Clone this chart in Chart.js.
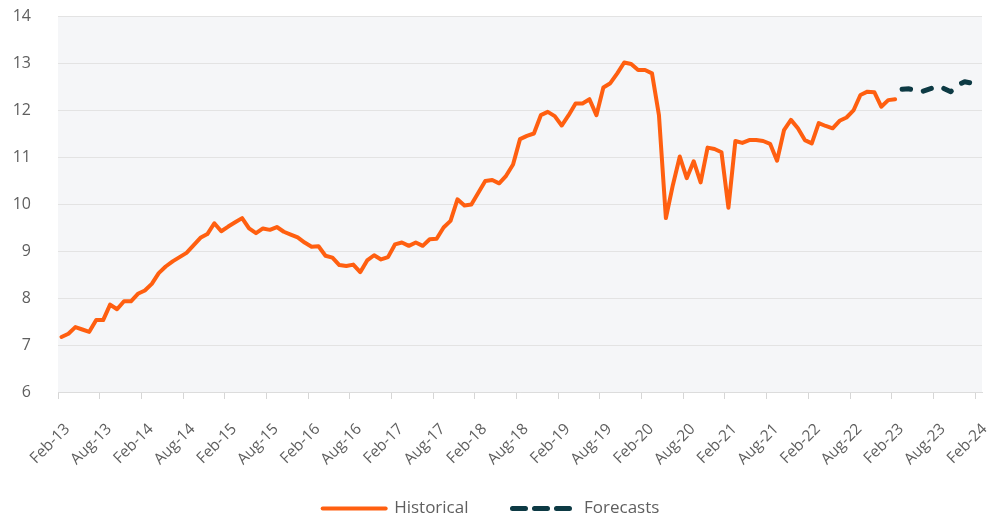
<!DOCTYPE html>
<html>
<head>
<meta charset="utf-8">
<script src="https://cdn.jsdelivr.net/npm/chart.js@4.4.0/dist/chart.umd.min.js"></script>
<style>
  html, body { margin: 0; padding: 0; background: #fff; }
</style>
</head>
<body>
<canvas id="chart" width="999" height="517"></canvas>
<script>
// Monthly series, Feb-13 .. Feb-23 (historical) and Mar-23 .. Feb-24 (forecast)
const tickLabels = ['Feb-13', 'Aug-13', 'Feb-14', 'Aug-14', 'Feb-15', 'Aug-15', 'Feb-16', 'Aug-16',
  'Feb-17', 'Aug-17', 'Feb-18', 'Aug-18', 'Feb-19', 'Aug-19', 'Feb-20', 'Aug-20', 'Feb-21',
  'Aug-21', 'Feb-22', 'Aug-22', 'Feb-23', 'Aug-23', 'Feb-24'];
const monthNames = ['Jan', 'Feb', 'Mar', 'Apr', 'May', 'Jun', 'Jul', 'Aug', 'Sep', 'Oct', 'Nov', 'Dec'];

const historical = [
  7.17, 7.24, 7.38, 7.33, 7.28, 7.53, 7.53, 7.86, 7.76, 7.93, 7.93, 8.09,
  8.16, 8.30, 8.53, 8.67, 8.78, 8.87, 8.96, 9.12, 9.28, 9.36, 9.59, 9.42,
  9.52, 9.61, 9.70, 9.48, 9.38, 9.48, 9.45, 9.51, 9.41, 9.35, 9.29, 9.18,
  9.09, 9.10, 8.90, 8.86, 8.70, 8.68, 8.71, 8.55, 8.80, 8.91, 8.82, 8.87,
  9.14, 9.18, 9.11, 9.18, 9.11, 9.25, 9.26, 9.50, 9.64, 10.10, 9.97, 9.99,
  10.24, 10.49, 10.51, 10.44, 10.60, 10.84, 11.38, 11.45, 11.50, 11.89, 11.96, 11.87,
  11.67, 11.89, 12.14, 12.14, 12.23, 11.89, 12.48, 12.57, 12.78, 13.01, 12.98, 12.85,
  12.85, 12.78, 11.89, 9.70, 10.40, 11.01, 10.55, 10.91, 10.46, 11.20, 11.17, 11.10,
  9.92, 11.34, 11.30, 11.36, 11.36, 11.34, 11.28, 10.92, 11.57, 11.79, 11.61, 11.36,
  11.29, 11.72, 11.66, 11.61, 11.77, 11.84, 11.99, 12.32, 12.39, 12.38, 12.07, 12.21,
  12.23
];
const forecasts = [12.44, 12.45, 12.41, 12.40, 12.45, 12.50, 12.46, 12.39, 12.53, 12.60, 12.57, 12.55];

const yTicks = { min: 6, max: 14, step: 1 };

// build month categories starting Feb-13
const categories = [];
for (let i = 0; i < historical.length + forecasts.length; i++) {
  const m = (1 + i) % 12;
  const y = 13 + Math.floor((1 + i) / 12);
  categories.push(monthNames[m] + '-' + y);
}

const histData = historical.concat(forecasts.map(() => null));
const fcData = historical.map(() => null).concat(forecasts);

const textColor = '#5f5f5f';
const fontFamily = '"Open Sans", Lato, sans-serif';

// light grey plot area
const plotBackground = {
  id: 'plotBackground',
  beforeDraw(chart) {
    const { ctx, chartArea } = chart;
    ctx.save();
    ctx.fillStyle = '#f5f6f8';
    ctx.fillRect(chartArea.left, chartArea.top, chartArea.right - chartArea.left, chartArea.bottom - chartArea.top);
    ctx.restore();
  }
};

const ctx = document.getElementById('chart').getContext('2d');
new Chart(ctx, {
  type: 'line',
  data: {
    labels: categories,
    datasets: [{
      label: 'Historical',
      data: histData,
      borderColor: '#ff5f10',
      backgroundColor: '#ff5f10',
      borderWidth: 4,
      borderJoinStyle: 'round',
      borderCapStyle: 'round',
      pointRadius: 0,
      tension: 0,
      spanGaps: false
    }, {
      label: 'Forecasts',
      data: fcData,
      borderColor: '#0d3a44',
      backgroundColor: '#0d3a44',
      borderWidth: 5,
      borderDash: [8.5, 13],
      borderCapStyle: 'round',
      borderJoinStyle: 'round',
      pointRadius: 0,
      tension: 0,
      spanGaps: false
    }]
  },
  options: {
    responsive: false,
    animation: false,
    layout: { padding: { top: 16, right: 17, left: 0, bottom: -10 } },
    scales: {
      x: {
        offset: true,
        grid: {
          offset: true,
          drawOnChartArea: false,
          tickLength: 26,
          tickBorderDash: [6, 40],  // only the first 6px of the long tick is visible
          color: (c) => (c.index % 6 === 0 ? '#d6d6d6' : 'transparent')
        },
        border: { color: '#dcdcdc' },
        ticks: {
          autoSkip: false,
          minRotation: 45,
          maxRotation: 45,
          padding: 2,
          labelOffset: 6,
          color: textColor,
          font: { family: fontFamily, size: 15.5 },
          callback: (v, i) => (i % 6 === 0 ? tickLabels[i / 6] : '')
        },
        afterFit: (s) => { s.height = 98; }
      },
      y: {
        min: yTicks.min,
        max: yTicks.max,
        ticks: {
          stepSize: yTicks.step,
          padding: 0,
          color: textColor,
          font: { family: fontFamily, size: 16 }
        },
        grid: { color: '#e3e3e3', drawTicks: true, tickLength: 27, tickColor: 'transparent' },
        border: { display: false },
        afterFit: (s) => { s.width = 58; }
      }
    },
    plugins: {
      tooltip: { enabled: false },
      legend: {
        position: 'bottom',
        labels: {
          usePointStyle: true,
          pointStyle: 'line',
          pointStyleWidth: 63,
          padding: 10,
          color: textColor,
          font: { family: fontFamily, size: 17 },
          generateLabels(chart) {
            const items = Chart.defaults.plugins.legend.labels.generateLabels(chart);
            items.forEach((item, i) => {
              const ds = chart.data.datasets[i];
              item.lineWidth = ds.borderWidth;
              item.lineCap = 'round';
              item.lineDash = ds.borderDash ? [13, 9] : [];
            });
            items[0].text += '\u2002\u2002\u2002\u2002';
            return items;
          }
        }
      }
    }
  },
  plugins: [plotBackground]
});
</script>
</body>
</html>
